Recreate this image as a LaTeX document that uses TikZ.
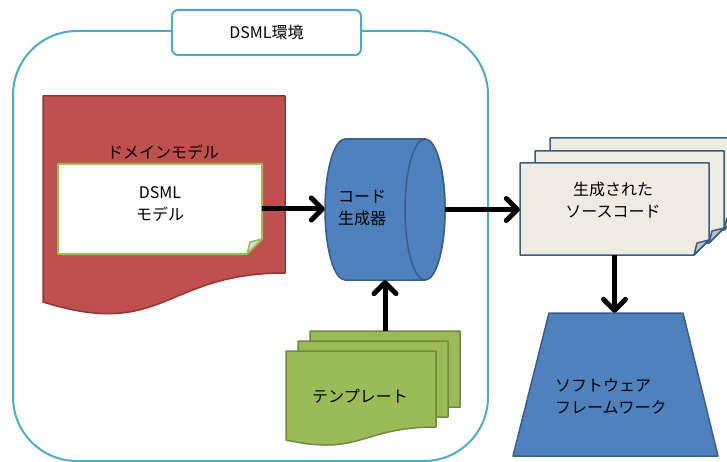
\documentclass[tikz,border=0pt]{standalone}
\usepackage{fontspec}
\setmainfont{Noto Sans CJK JP}
\usetikzlibrary{arrows.meta}

\definecolor{envblue}{HTML}{4BACC6}
\definecolor{redfill}{HTML}{C0504D}
\definecolor{redline}{HTML}{8C3836}
\definecolor{greenfill}{HTML}{9BBB59}
\definecolor{greenline}{HTML}{71893F}
\definecolor{bluefill}{HTML}{4F81BD}
\definecolor{blueline}{HTML}{385D8A}
\definecolor{paper}{HTML}{EEECE1}
\definecolor{paperfold}{HTML}{C4C2B8}

\tikzset{
  frame/.style={draw=envblue,line width=2pt},
  envlabel/.style={draw=envblue,line width=2pt,fill=white,rounded corners=6pt,
    minimum width=189pt,minimum height=45pt,inner sep=0pt},
  hold/.style={inner sep=0pt},
  txt/.style={align=center,inner sep=0pt},
  redpaper/.style={fill=redfill,draw=redline,line width=1.5pt},
  note/.style={fill=white,draw=greenfill,line width=2pt},
  notefold/.style={fill=black!15,draw=greenfill,line width=1.5pt},
  srcpaper/.style={fill=paper,draw=blueline,line width=1.5pt},
  srcfold/.style={fill=paperfold,draw=blueline,line width=1.5pt},
  tmplpaper/.style={fill=greenfill,draw=greenline,line width=1.5pt},
  blueshape/.style={fill=bluefill,draw=blueline,line width=1.5pt},
  flow/.style={line width=5pt,-{Straight Barb[length=11pt,width=22pt,round]}}
}

\begin{document}
\begin{tikzpicture}[x=1pt,y=-1pt,line join=round,font=\fontsize{16}{22}\selectfont]
  \useasboundingbox (0,0) rectangle (727,462);

  % DSML environment
  \draw[frame,rounded corners=64pt] (13,31) rectangle (488,461);
  \node[envlabel] (env) at (266.5,32.5) {DSML環境};

  % domain model
  \draw[redpaper] (43,96) -- (285,96) -- (285,273)
    .. controls (164,273) and (164,340) .. (43,302) -- cycle;
  \node[txt] (domain) at (163,152) {ドメインモデル};

  \draw[note] (58,164) -- (262,164) -- (262,239) -- (247,254) -- (58,254) -- cycle;
  \draw[notefold] (247,254) -- (250,242) -- (262,239) -- cycle;
  \node[hold,minimum width=204pt,minimum height=90pt] (model) at (160,209) {};
  \node[txt] (modeltext) at (160,204) {DSML\\モデル};

  % code generator
  \draw[blueshape] (345,139) -- (425,139)
    arc[start angle=-90,end angle=90,x radius=20,y radius=70.5]
    -- (345,280)
    arc[start angle=90,end angle=270,x radius=20,y radius=70.5] -- cycle;
  \draw[blueshape] (425,209.5) ellipse[x radius=20,y radius=70.5];
  \node[hold,minimum width=120pt,minimum height=141pt] (gen) at (385,209.5) {};
  \node[txt,anchor=west,align=left] (gentext) at (338,208) {コード\\生成器};

  % generated source code
  \foreach \dx/\dy in {30/-25,15/-12,0/0} {
    \draw[srcpaper,shift={(\dx,\dy)}] (520,163) -- (709,163) -- (709,240)
      -- (694,255) -- (520,255) -- cycle;
    \draw[srcfold,shift={(\dx,\dy)}] (694,255) -- (697,243) -- (709,240) -- cycle;
  }
  \node[hold,minimum width=189pt,minimum height=92pt] (src) at (614.5,209) {};
  \node[txt] (srctext) at (613,200) {生成された\\ソースコード};

  % templates
  \foreach \dx/\dy in {24/-20,12/-10,0/0} {
    \draw[tmplpaper,shift={(\dx,\dy)}] (286,351) -- (436,351) -- (436,427)
      .. controls (361,427) and (361,456.5) .. (286,440) -- cycle;
  }
  \node[hold,minimum width=150pt,minimum height=76pt] (tmpl) at (385,369) {};
  \node[txt] (tmpltext) at (360,396) {テンプレート};

  % software framework
  \draw[blueshape] (549,313) -- (683,313) -- (718,456) -- (513,456) -- cycle;
  \node[hold,minimum width=205pt,minimum height=143pt] (fw) at (615.5,384.5) {};
  \node[txt,anchor=west,align=left] (fwtext) at (555,396.5) {ソフトウェア\\フレームワーク};

  \draw[flow] (model.east) -- (model.east -| gen.west);
  \draw[flow] (gen.east) -- (gen.east -| src.west);
  \draw[flow] (src.south) -- (src.south |- fw.north);
  \draw[flow] (tmpl.north) -- (tmpl.north |- gen.south);
\end{tikzpicture}
\end{document}
